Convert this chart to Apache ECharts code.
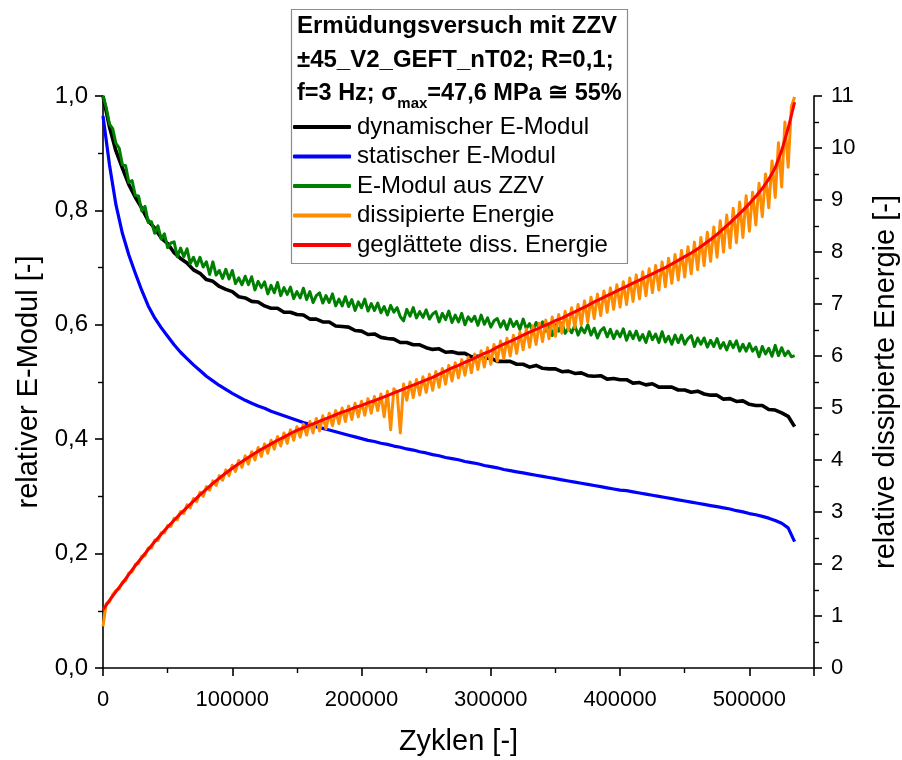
<!DOCTYPE html>
<html>
<head>
<meta charset="utf-8">
<script src="https://cdn.jsdelivr.net/npm/echarts@6/dist/echarts.min.js"></script>
<style>
  html, body { margin: 0; padding: 0; background: #fff; }
  #chart { width: 902px; height: 760px; }
</style>
</head>
<body>
<div id="chart"></div>
<script>
// Load cycles in thousands: coarse grid for the modulus curves, fine grid for the noisy ones
const cyclesK = [0,5,10,15,20,25,30,35,40,45,50,55,60,65,70,75,80,85,90,95,100,105,110,115,120,125,130,135,140,145,150,155,160,165,170,175,180,185,190,195,200,205,210,215,220,225,230,235,240,245,250,255,260,265,270,275,280,285,290,295,300,305,310,315,320,325,330,335,340,345,350,355,360,365,370,375,380,385,390,395,400,405,410,415,420,425,430,435,440,445,450,455,460,465,470,475,480,485,490,495,500,505,510,515,520,525,530,535];

const cyclesFineK = [0,2.5,5,7.5,10,12.5,15,17.5,20,22.5,25,27.5,30,32.5,35,37.5,40,42.5,45,47.5,50,52.5,55,57.5,60,62.5,65,67.5,70,72.5,75,77.5,80,82.5,85,87.5,90,92.5,95,97.5,100,102.5,105,107.5,110,112.5,115,117.5,120,122.5,125,127.5,130,132.5,135,137.5,140,142.5,145,147.5,150,152.5,155,157.5,160,162.5,165,167.5,170,172.5,175,177.5,180,182.5,185,187.5,190,192.5,195,197.5,200,202.5,205,207.5,210,212.5,215,217.5,220,222.5,225,227.5,230,232.5,235,237.5,240,242.5,245,247.5,250,252.5,255,257.5,260,262.5,265,267.5,270,272.5,275,277.5,280,282.5,285,287.5,290,292.5,295,297.5,300,302.5,305,307.5,310,312.5,315,317.5,320,322.5,325,327.5,330,332.5,335,337.5,340,342.5,345,347.5,350,352.5,355,357.5,360,362.5,365,367.5,370,372.5,375,377.5,380,382.5,385,387.5,390,392.5,395,397.5,400,402.5,405,407.5,410,412.5,415,417.5,420,422.5,425,427.5,430,432.5,435,437.5,440,442.5,445,447.5,450,452.5,455,457.5,460,462.5,465,467.5,470,472.5,475,477.5,480,482.5,485,487.5,490,492.5,495,497.5,500,502.5,505,507.5,510,512.5,515,517.5,520,522.5,525,527.5,530,532.5,535];

// dynamischer E-Modul (relative), on cyclesK
const dynModul = [1.000,0.946,0.904,0.874,0.845,0.823,0.804,0.782,0.769,0.752,0.742,0.726,0.716,0.708,0.696,0.690,0.679,0.676,0.667,0.662,0.658,0.649,0.647,0.641,0.640,0.633,0.629,0.629,0.622,0.622,0.618,0.617,0.610,0.610,0.605,0.605,0.598,0.597,0.596,0.590,0.589,0.583,0.584,0.578,0.576,0.575,0.569,0.569,0.565,0.565,0.560,0.557,0.558,0.552,0.553,0.550,0.550,0.544,0.545,0.541,0.542,0.536,0.536,0.536,0.531,0.531,0.526,0.529,0.524,0.523,0.523,0.518,0.519,0.515,0.516,0.511,0.510,0.511,0.505,0.506,0.504,0.504,0.498,0.499,0.495,0.497,0.491,0.491,0.491,0.486,0.486,0.482,0.484,0.479,0.477,0.477,0.470,0.471,0.466,0.467,0.461,0.459,0.459,0.452,0.451,0.446,0.440,0.422];

// statischer E-Modul (relative), on cyclesK
const statModul = [0.965,0.880,0.810,0.760,0.722,0.690,0.660,0.633,0.612,0.595,0.580,0.565,0.552,0.541,0.530,0.520,0.510,0.502,0.494,0.487,0.480,0.474,0.468,0.463,0.458,0.454,0.449,0.445,0.441,0.437,0.433,0.429,0.426,0.422,0.419,0.416,0.413,0.410,0.407,0.404,0.401,0.398,0.396,0.393,0.391,0.388,0.386,0.383,0.381,0.378,0.376,0.373,0.371,0.368,0.366,0.364,0.361,0.359,0.357,0.354,0.352,0.350,0.347,0.345,0.343,0.341,0.339,0.337,0.335,0.333,0.331,0.329,0.327,0.325,0.323,0.321,0.319,0.317,0.315,0.313,0.311,0.310,0.308,0.306,0.304,0.302,0.300,0.298,0.296,0.294,0.292,0.290,0.288,0.286,0.284,0.282,0.280,0.278,0.275,0.273,0.270,0.268,0.265,0.262,0.258,0.253,0.245,0.221];

// E-Modul aus ZZV (relative), on cyclesFineK
const zzvModul = [1.000,0.980,0.951,0.943,0.917,0.909,0.880,0.878,0.849,0.852,0.826,0.825,0.799,0.807,0.779,0.780,0.760,0.773,0.750,0.759,0.735,0.743,0.745,0.719,0.734,0.719,0.733,0.707,0.718,0.703,0.718,0.701,0.710,0.688,0.710,0.687,0.695,0.681,0.697,0.680,0.695,0.672,0.682,0.670,0.685,0.670,0.684,0.661,0.676,0.665,0.675,0.654,0.669,0.656,0.674,0.651,0.665,0.653,0.666,0.646,0.658,0.647,0.664,0.644,0.658,0.639,0.651,0.656,0.638,0.651,0.639,0.654,0.633,0.645,0.633,0.649,0.632,0.644,0.625,0.640,0.630,0.645,0.624,0.637,0.625,0.638,0.621,0.632,0.617,0.634,0.622,0.630,0.614,0.607,0.627,0.615,0.630,0.612,0.623,0.613,0.626,0.610,0.619,0.623,0.605,0.620,0.609,0.624,0.604,0.617,0.605,0.620,0.600,0.614,0.606,0.615,0.599,0.617,0.601,0.612,0.596,0.607,0.611,0.596,0.607,0.592,0.610,0.597,0.606,0.592,0.610,0.593,0.602,0.589,0.604,0.594,0.605,0.589,0.600,0.581,0.600,0.589,0.603,0.585,0.595,0.586,0.599,0.582,0.595,0.586,0.600,0.582,0.594,0.577,0.590,0.595,0.579,0.592,0.576,0.589,0.579,0.593,0.573,0.588,0.576,0.589,0.573,0.583,0.569,0.588,0.574,0.584,0.569,0.588,0.570,0.580,0.566,0.582,0.569,0.582,0.566,0.576,0.581,0.562,0.577,0.566,0.577,0.561,0.573,0.562,0.576,0.559,0.569,0.556,0.571,0.560,0.572,0.554,0.566,0.554,0.567,0.554,0.561,0.544,0.562,0.549,0.559,0.545,0.564,0.546,0.560,0.546,0.554,0.544,0.546];

// dissipierte Energie (relative), on cyclesFineK
const dissEnergie = [0.80,1.24,1.27,1.41,1.49,1.52,1.65,1.68,1.83,1.85,1.99,2.01,2.15,2.16,2.31,2.31,2.46,2.45,2.60,2.60,2.74,2.72,2.88,2.85,3.01,2.97,3.14,3.08,3.26,3.20,3.38,3.30,3.49,3.42,3.60,3.51,3.70,3.61,3.81,3.70,3.90,3.78,3.99,3.86,4.08,3.92,4.16,4.00,4.24,4.07,4.31,4.13,4.38,4.21,4.45,4.27,4.52,4.32,4.58,4.38,4.64,4.44,4.69,4.48,4.74,4.52,4.80,4.56,4.85,4.60,4.90,4.66,4.95,4.70,5.00,4.74,5.04,4.78,5.09,4.83,5.13,4.86,5.18,4.90,5.22,4.95,5.27,4.83,5.32,4.58,5.37,5.30,4.52,5.46,5.15,5.50,5.20,5.55,5.25,5.60,5.30,5.65,5.34,5.70,5.40,5.76,5.46,5.82,5.52,5.87,5.58,5.93,5.63,5.98,5.68,6.04,5.74,6.10,5.79,6.16,5.84,6.22,5.90,6.29,5.95,6.34,6.00,6.40,6.05,6.46,6.12,6.52,6.17,6.58,6.22,6.63,6.28,6.69,6.33,6.75,6.38,6.80,6.44,6.86,6.50,6.93,6.55,6.99,6.60,7.06,6.66,7.13,6.72,7.19,6.78,7.25,6.84,7.31,6.90,7.37,6.94,7.43,6.99,7.50,7.05,7.56,7.10,7.62,7.16,7.68,7.22,7.74,7.27,7.81,7.33,7.88,7.40,7.95,7.46,8.03,7.52,8.10,7.58,8.19,7.66,8.28,7.74,8.38,7.82,8.48,7.90,8.60,8.00,8.71,8.08,8.84,8.18,8.96,8.28,9.08,8.40,9.15,8.52,9.32,8.68,9.50,8.85,9.75,9.05,10.10,9.25,10.50,9.63,10.80,10.98];

// geglättete dissipierte Energie (relative), on cyclesK
const smoothEnergie = [1.12,1.30,1.47,1.63,1.80,1.97,2.12,2.28,2.43,2.57,2.71,2.84,2.97,3.09,3.21,3.33,3.44,3.55,3.65,3.75,3.84,3.93,4.01,4.09,4.17,4.24,4.31,4.38,4.44,4.51,4.57,4.62,4.67,4.72,4.77,4.82,4.87,4.92,4.96,5.01,5.05,5.10,5.14,5.19,5.24,5.29,5.34,5.39,5.44,5.49,5.54,5.59,5.65,5.71,5.77,5.82,5.88,5.93,5.99,6.05,6.10,6.17,6.23,6.28,6.34,6.40,6.46,6.51,6.57,6.62,6.68,6.73,6.79,6.85,6.91,6.97,7.04,7.10,7.16,7.22,7.28,7.34,7.40,7.46,7.52,7.58,7.64,7.70,7.77,7.84,7.91,7.98,8.06,8.15,8.24,8.34,8.45,8.56,8.68,8.80,8.93,9.07,9.22,9.40,9.62,9.95,10.38,10.88];

const xTicks = [0, 100000, 200000, 300000, 400000, 500000];
const leftTicks = [0, 0.2, 0.4, 0.6, 0.8, 1.0];
const rightTicks = [0,1,2,3,4,5,6,7,8,9,10,11];

const FONT = '"Liberation Sans", Arial, sans-serif';

function pairs(xsK, ys) {
  return ys.map((y, i) => [xsK[i] * 1000, y]);
}

const chart = echarts.init(document.getElementById('chart'), null, { renderer: 'canvas' });

const axisLineStyle = { color: '#000', width: 1.6 };
const minorStyle = { color: '#000', width: 1.4 };

chart.setOption({
  animation: false,
  backgroundColor: '#fff',
  textStyle: { fontFamily: FONT },
  grid: { left: 103, right: 88, top: 96, bottom: 92, containLabel: false, outerBoundsMode: 'none' },
  title: {
    left: 297,
    top: 9,
    padding: 0,
    text: '{b|Ermüdungsversuch mit ZZV}\n{b|±45_V2_GEFT_nT02; R=0,1;}\n{c|f=3 Hz; σ}{s|max}{c|=47,6 MPa ≅ 55%}',
    textStyle: {
      rich: {
        b: { fontFamily: FONT, fontWeight: 'bold', fontSize: 24, lineHeight: 34, color: '#000' },
        c: { fontFamily: FONT, fontWeight: 'bold', fontSize: 23.5, lineHeight: 34, color: '#000' },
        s: { fontFamily: FONT, fontWeight: 'bold', fontSize: 15, lineHeight: 14, verticalAlign: 'bottom', color: '#000' }
      }
    }
  },
  graphic: [{
    type: 'rect',
    shape: { x: 291.5, y: 9.5, width: 336, height: 254 },
    style: { fill: 'none', stroke: '#8c8c8c', lineWidth: 1.2 },
    z: 100
  }],
  legend: {
    orient: 'vertical',
    left: 293,
    top: 115,
    padding: 0,
    itemGap: 5.5,
    itemWidth: 58,
    itemHeight: 4,
    icon: 'roundRect',
    textStyle: { fontFamily: FONT, fontSize: 24, lineHeight: 24, color: '#000', padding: [0, 0, 0, 1] },
    data: ['dynamischer E-Modul', 'statischer E-Modul', 'E-Modul aus ZZV', 'dissipierte Energie', 'geglättete diss. Energie']
  },
  xAxis: {
    type: 'value',
    min: 0,
    max: 550000,
    interval: 100000,
    name: 'Zyklen [-]',
    nameLocation: 'middle',
    nameGap: 59,
    nameTextStyle: { fontFamily: FONT, fontSize: 29, color: '#000' },
    axisLine: { show: true, onZero: false, lineStyle: axisLineStyle },
    axisTick: { show: true, length: 8, lineStyle: axisLineStyle },
    minorTick: { show: true, splitNumber: 2, length: 5, lineStyle: minorStyle },
    splitLine: { show: false },
    axisLabel: {
      fontFamily: FONT, fontSize: 22, color: '#000', margin: 21,
      showMaxLabel: false,
      formatter: v => xTicks.includes(v) ? String(v) : ''
    }
  },
  yAxis: [{
    type: 'value',
    position: 'left',
    min: 0,
    max: 1,
    interval: 0.2,
    name: 'relativer E-Modul [-]',
    nameLocation: 'middle',
    nameRotate: 90,
    nameGap: 59,
    nameTextStyle: { fontFamily: FONT, fontSize: 29, color: '#000' },
    axisLine: { show: true, lineStyle: axisLineStyle },
    axisTick: { show: true, length: 8, lineStyle: axisLineStyle },
    minorTick: { show: true, splitNumber: 2, length: 5, lineStyle: minorStyle },
    splitLine: { show: false },
    axisLabel: {
      fontFamily: FONT, fontSize: 24, color: '#000', margin: 15,
      formatter: v => {
        const t = leftTicks.find(k => Math.abs(k - v) < 1e-9);
        return t === undefined ? '' : t.toFixed(1).replace('.', ',');
      }
    }
  }, {
    type: 'value',
    position: 'right',
    min: 0,
    max: 11,
    interval: 1,
    name: 'relative dissipierte Energie [-]',
    nameLocation: 'middle',
    nameRotate: 90,
    nameGap: 57,
    nameTextStyle: { fontFamily: FONT, fontSize: 29, color: '#000' },
    axisLine: { show: true, lineStyle: axisLineStyle },
    axisTick: { show: true, length: 8, lineStyle: axisLineStyle },
    minorTick: { show: true, splitNumber: 2, length: 5, lineStyle: minorStyle },
    splitLine: { show: false },
    axisLabel: {
      fontFamily: FONT, fontSize: 22, color: '#000', margin: 17,
      formatter: v => rightTicks.includes(v) ? String(v) : ''
    }
  }],
  series: [{
    name: 'dynamischer E-Modul',
    type: 'line',
    yAxisIndex: 0,
    data: pairs(cyclesK, dynModul),
    showSymbol: false, symbol: 'none',
    itemStyle: { color: '#000000' },
    lineStyle: { color: '#000000', width: 3.6, join: 'round' }
  }, {
    name: 'statischer E-Modul',
    type: 'line',
    yAxisIndex: 0,
    data: pairs(cyclesK, statModul),
    showSymbol: false, symbol: 'none',
    itemStyle: { color: '#0000ff' },
    lineStyle: { color: '#0000ff', width: 3.2, join: 'round' }
  }, {
    name: 'E-Modul aus ZZV',
    type: 'line',
    yAxisIndex: 0,
    data: pairs(cyclesFineK, zzvModul),
    showSymbol: false, symbol: 'none',
    itemStyle: { color: '#008000' },
    lineStyle: { color: '#008000', width: 3, join: 'round' }
  }, {
    name: 'dissipierte Energie',
    type: 'line',
    yAxisIndex: 1,
    data: pairs(cyclesFineK, dissEnergie),
    showSymbol: false, symbol: 'none',
    itemStyle: { color: '#ff8c00' },
    lineStyle: { color: '#ff8c00', width: 3, join: 'round' }
  }, {
    name: 'geglättete diss. Energie',
    type: 'line',
    yAxisIndex: 1,
    data: pairs(cyclesK, smoothEnergie),
    showSymbol: false, symbol: 'none',
    itemStyle: { color: '#ff0000' },
    lineStyle: { color: '#ff0000', width: 3, join: 'round' }
  }]
});
</script>
</body>
</html>
